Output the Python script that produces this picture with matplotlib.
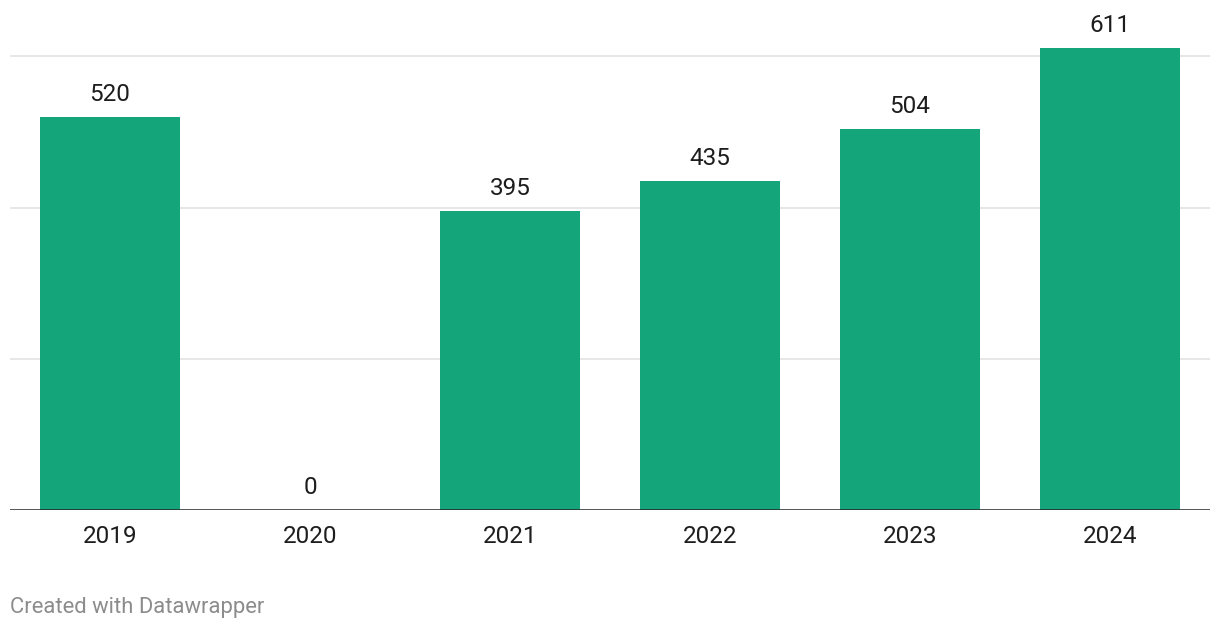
import matplotlib
matplotlib.use("Agg")
import matplotlib.pyplot as plt

years = ["2019", "2020", "2021", "2022", "2023", "2024"]
values = [520, 0, 395, 435, 504, 611]
grid_ticks = [200, 400, 600]

plt.rcParams['font.family'] = ['Roboto', 'DejaVu Sans']

fig = plt.figure(figsize=(12.2, 6.3), dpi=100)
ax = fig.add_axes([10/1220, 1 - 510/630, 1200/1220, 499/630])

x = range(len(years))
bar_color = "#14a57a"
ax.bar(x, values, width=0.7, color=bar_color, zorder=2)
ax.set_xlim(-0.5, len(years) - 0.5)
ax.set_ylim(0, 660)

for t in grid_ticks:
    ax.axhline(t, color="#e3e3e3", linewidth=1.2, zorder=1)
ax.axhline(0, color="#222222", linewidth=1.8, zorder=3)

for xi, v in zip(x, values):
    ax.annotate(f"{v}", (xi, v), xytext=(0, 8), textcoords="offset points",
                ha="center", va="bottom", fontsize=17.5, color="#1d1d1d")

ax.set_xticks(list(x))
ax.set_xticklabels(years, fontsize=17.5, color="#1d1d1d")
ax.tick_params(axis="x", length=0, pad=11)
ax.set_yticks([])
for s in ax.spines.values():
    s.set_visible(False)

fig.text(10/1220, 1 - 608/630, "Created with Datawrapper", fontsize=15.8,
         color="#8c8c8c", ha="left", va="center")

fig.savefig("out.png", dpi=100)
